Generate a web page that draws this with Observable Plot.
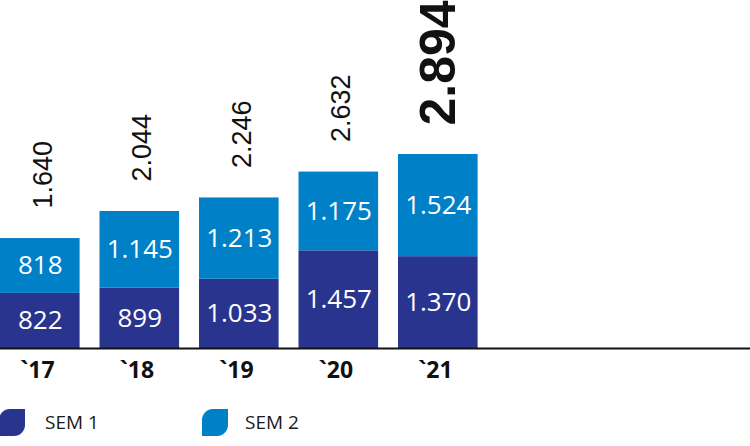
<!DOCTYPE html>
<html>
<head>
<meta charset="utf-8">
<script src="https://cdn.jsdelivr.net/npm/d3@7"></script>
<script src="https://cdn.jsdelivr.net/npm/@observablehq/plot@0.6"></script>
<style>
  html, body { margin: 0; padding: 0; background: #fff; }
  #wrap { width: 750px; height: 446px; position: relative; overflow: hidden; }
  #legend { position: absolute; left: 0; top: 392px; width: 750px; height: 54px; font-family: "Open Sans", sans-serif; font-size: 19px; color: #1a1a1a; }
  .sw { position: absolute; top: 17px; width: 26px; height: 27px; border-radius: 11px 0 11px 0; }
  .lb { position: absolute; top: 17px; line-height: 27px; }
</style>
</head>
<body>
<div id="wrap">
  <div id="chart"></div>
  <div id="legend"></div>
</div>
<script>
const categories = ["`17", "`18", "`19", "`20", "`21"];
const sem1 = [822, 899, 1033, 1457, 1370];
const sem2 = [818, 1145, 1213, 1175, 1524];
const totals = [1640, 2044, 2246, 2632, 2894];
const seriesNames = ["SEM 1", "SEM 2"];
const seriesColors = ["#29348f", "#0080c6"];

const fmt = d3.formatLocale({decimal: ",", thousands: ".", grouping: [3], currency: ["", "€"]}).format(",d");

const data = [];
categories.forEach((c, i) => {
  data.push({cat: c, series: seriesNames[0], value: sem1[i]});
  data.push({cat: c, series: seriesNames[1], value: sem2[i]});
});
const totalData = categories.map((c, i) => ({cat: c, total: totals[i]}));
const lastCat = categories[categories.length - 1];

const chart = Plot.plot({
  width: 750,
  height: 392,
  marginTop: 0, marginBottom: 0, marginLeft: 0, marginRight: 0,
  x: {type: "band", domain: categories, range: [-19.9, 497.5], padding: 0.2, round: false, axis: null},
  y: {domain: [0, 2894], range: [348, 154], axis: null},
  color: {domain: seriesNames, range: seriesColors},
  marks: [
    Plot.barY(data, {x: "cat", y: "value", fill: "series", z: "series"}),
    Plot.text(data, Plot.stackY({x: "cat", y: "value", z: "series", text: d => fmt(d.value),
      fill: "white", fontSize: 26, fontFamily: "Open Sans", lineAnchor: "middle"})),
    Plot.ruleY([0], {stroke: "#111", strokeWidth: 2}),
    Plot.text(totalData.filter(d => d.cat !== lastCat), {x: "cat", y: "total", text: d => fmt(d.total),
      rotate: -90, textAnchor: "start", lineAnchor: "middle", dy: -30, dx: 3,
      fontSize: 27, fontFamily: "Liberation Sans", fill: "#111"}),
    Plot.text(totalData.filter(d => d.cat === lastCat), {x: "cat", y: "total", text: d => fmt(d.total),
      rotate: -90, textAnchor: "start", lineAnchor: "middle", dy: -29, dx: 1,
      fontSize: 50, fontWeight: "bold", fontFamily: "Liberation Sans", fill: "#111"}),
    Plot.text(categories, {x: d => d, y: 0, text: d => d, dy: 22, dx: -3,
      fontSize: 23, fontWeight: "bold", fontFamily: "Open Sans", fill: "#111", lineAnchor: "middle"})
  ]
});
document.getElementById("chart").appendChild(chart);

const legend = document.getElementById("legend");
const legendX = [[-1, 45], [202, 245]];
seriesNames.forEach((name, i) => {
  const sw = document.createElement("div");
  sw.className = "sw";
  sw.style.left = legendX[i][0] + "px";
  sw.style.background = seriesColors[i];
  legend.appendChild(sw);
  const lb = document.createElement("div");
  lb.className = "lb";
  lb.style.left = legendX[i][1] + "px";
  lb.textContent = name;
  legend.appendChild(lb);
});
</script>
</body>
</html>
